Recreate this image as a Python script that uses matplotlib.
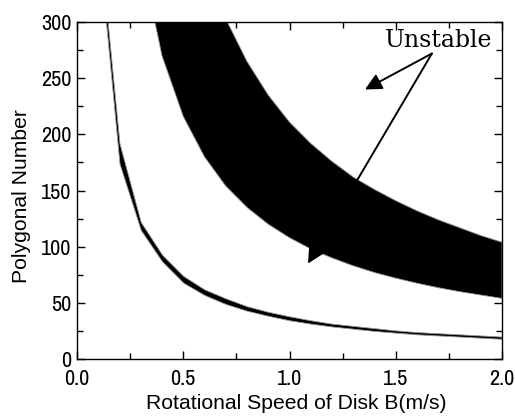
# Stability map: polygonal number vs rotational speed of disk B

import matplotlib
matplotlib.use('Agg')
import matplotlib.pyplot as plt
from matplotlib.ticker import MultipleLocator

# lower (thin) unstable band, sampled every 0.1 m/s
speed_low = [0.1, 0.2, 0.3, 0.4, 0.5, 0.6, 0.7, 0.8, 0.9, 1.0,
             1.1, 1.2, 1.3, 1.4, 1.5, 1.6, 1.7, 1.8, 1.9, 2.0]
low_band_top = [386, 192, 122, 93, 74, 62, 54, 47, 42, 38,
                34.5, 31.5, 29.5, 27.5, 25.5, 24, 23, 22, 21, 20]
low_band_bottom = [372, 174, 115, 87, 68, 57, 49, 43, 38.5, 34.5,
                   31.5, 29, 27, 25, 23.5, 22, 21, 20, 19, 18]

# upper (wide) unstable band
speed_high = [0.3, 0.4, 0.5, 0.6, 0.7, 0.8, 0.9, 1.0, 1.1, 1.2,
              1.3, 1.4, 1.5, 1.6, 1.7, 1.8, 1.9, 2.0]
high_band_top = [700, 530, 420, 350, 303, 265, 235, 211, 192, 176,
                 162, 151, 141, 132, 124, 117, 110, 104]
high_band_bottom = [360, 270, 216, 180, 154, 135, 120, 108, 98, 90,
                    83, 77, 72, 67.5, 63.5, 60, 57, 54]

label_text = 'Unstable'
label_pos = (1.70, 284)
arrow_tail = (1.67, 272)
arrow_tips = [(1.355, 240), (1.087, 85)]

tick_font = ['Archivo Narrow', 'DejaVu Sans']
label_font = ['Liberation Sans', 'DejaVu Sans']

fig = plt.figure(figsize=(5.15, 4.17), dpi=100)
ax = fig.add_axes([0.1495, 0.139, 0.8253, 0.808])

ax.fill_between(speed_low, low_band_bottom, low_band_top, facecolor='black',
                edgecolor='0.6', linewidth=0.6, zorder=2)
ax.fill_between(speed_high, high_band_bottom, high_band_top, facecolor='black',
                edgecolor='0.6', linewidth=0.6, zorder=2)

for tip in arrow_tips:
    ax.annotate('', xy=tip, xytext=arrow_tail, zorder=3,
                arrowprops=dict(arrowstyle='-|>,head_length=0.5,head_width=0.25',
                                mutation_scale=20, color='black', lw=1.4,
                                shrinkA=0, shrinkB=0))
ax.text(label_pos[0], label_pos[1], label_text, family='DejaVu Serif',
        fontsize=17, ha='center', va='center', zorder=4)

ax.set_xlim(0, 2.0)
ax.set_ylim(0, 300)
ax.xaxis.set_major_locator(MultipleLocator(0.5))
ax.xaxis.set_minor_locator(MultipleLocator(0.25))
ax.yaxis.set_major_locator(MultipleLocator(50))
ax.yaxis.set_minor_locator(MultipleLocator(25))
ax.xaxis.set_major_formatter(plt.FormatStrFormatter('%.1f'))

ax.tick_params(which='both', direction='in', top=True, right=True, width=1.0)
ax.tick_params(which='major', length=6)
ax.tick_params(which='minor', length=4)
ax.tick_params(axis='x', pad=7)
ax.tick_params(axis='y', pad=4)
for lab in ax.get_xticklabels() + ax.get_yticklabels():
    lab.set_family(tick_font)
    lab.set_fontsize(16)

for sp in ax.spines.values():
    sp.set_linewidth(1.0)

ax.set_xlabel('Rotational Speed of Disk B(m/s)', family=label_font, fontsize=15.2, labelpad=4)
ax.set_ylabel('Polygonal Number', family=label_font, fontsize=15.2, labelpad=7)
ax.xaxis.label.set_x(0.5165)
ax.yaxis.label.set_y(0.485)

fig.savefig('out.png', dpi=100)
